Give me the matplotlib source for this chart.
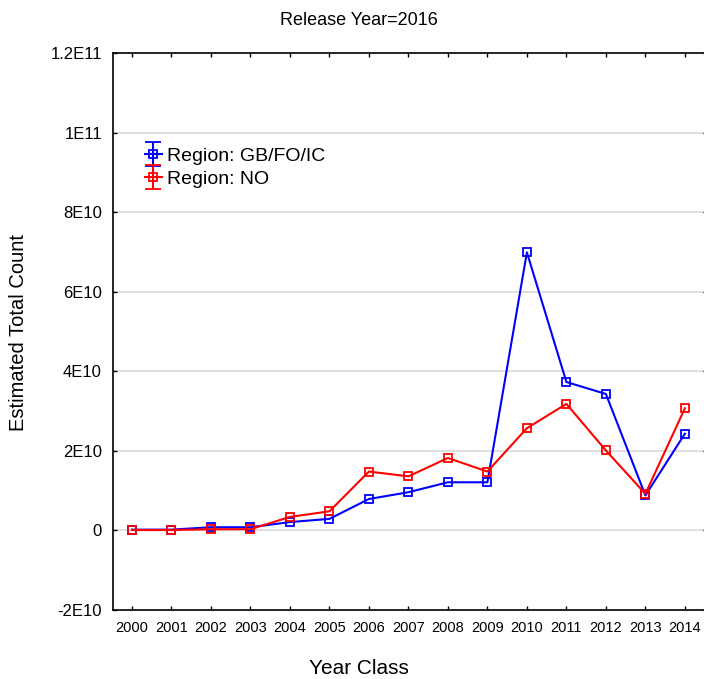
import matplotlib
matplotlib.use('Agg')
import matplotlib.pyplot as plt
from matplotlib.legend_handler import HandlerErrorbar
import numpy as np

plt.rcParams['font.family'] = ['Liberation Sans', 'DejaVu Sans']

years = list(range(2000, 2015))
gb_fo_ic = [0.02e10, 0.02e10, 0.08e10, 0.08e10, 0.21e10, 0.29e10, 0.79e10, 0.96e10,
            1.21e10, 1.21e10, 6.99e10, 3.73e10, 3.43e10, 0.88e10, 2.43e10]
no = [0.01e10, 0.01e10, 0.03e10, 0.03e10, 0.34e10, 0.48e10, 1.48e10, 1.36e10,
      1.82e10, 1.48e10, 2.57e10, 3.18e10, 2.01e10, 0.92e10, 3.07e10]
series_labels = ['Region: GB/FO/IC', 'Region: NO']
series_colors = ['#0000ff', '#ff0000']
ytick_values = [-2e10, 0, 2e10, 4e10, 6e10, 8e10, 1e11, 1.2e11]
ytick_labels = ['-2E10', '0', '2E10', '4E10', '6E10', '8E10', '1E11', '1.2E11']


def main():
    fig = plt.figure(figsize=(7.04, 6.79), dpi=100)
    # right edge sits just past the image border, as in the original
    ax = fig.add_axes([113 / 704, 1 - 610 / 679, 594 / 704, 557 / 679])

    handles = []
    for vals, label, color in zip([gb_fo_ic, no], series_labels, series_colors):
        ax.plot(years, vals, color=color, lw=1.5, marker='s', ms=5.5,
                mfc='none', mec=color, mew=1.3, zorder=3)
        # proxy errorbar handle for the legend
        h = ax.errorbar([np.nan], [np.nan], yerr=[1], color=color, lw=1.5,
                        marker='s', ms=5.5, mfc='none', mew=1.3, capsize=5.5,
                        capthick=1.5, label=label)
        handles.append(h)

    for y in ytick_values[1:-1]:
        ax.axhline(y, color='#d9d9d9', lw=1.2, zorder=1)

    ax.set_xlim(1999.52, 2014.56)
    ax.set_ylim(-2e10, 1.2e11)
    ax.set_xticks(years)
    ax.set_xticklabels([str(y) for y in years], fontsize=10.5)
    ax.set_yticks(ytick_values)
    ax.set_yticklabels(ytick_labels, fontsize=12)
    ax.tick_params(direction='in', length=3, width=1, top=True, right=True)
    ax.tick_params(axis='x', pad=8)
    ax.tick_params(axis='y', pad=8)
    for s in ax.spines.values():
        s.set_linewidth(1.2)

    ax.legend(handles=handles, labels=series_labels,
              handler_map={type(handles[0]): HandlerErrorbar(yerr_size=0.62)},
              loc='upper left', bbox_to_anchor=(0.041, 0.845),
              frameon=False, fontsize=14, handlelength=0.85,
              handletextpad=0.3, labelspacing=0.3, borderaxespad=0)

    fig.text(0.51, 0.9705, 'Release Year=2016', ha='center', va='center',
             fontsize=13)
    fig.text(0.51, 0.016, 'Year Class', ha='center', va='center', fontsize=15)
    fig.text(0.026, 0.51, 'Estimated Total Count', ha='center', va='center',
             rotation=90, fontsize=14.5)

    fig.savefig('out.png', dpi=100)


if __name__ == "__main__":
    main()
